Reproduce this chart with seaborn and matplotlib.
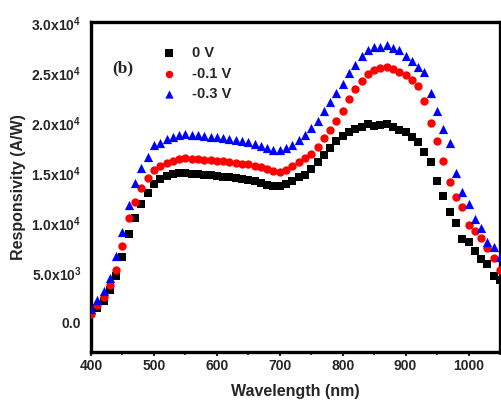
import numpy as np
import pandas as pd
import matplotlib
matplotlib.use("Agg")
import matplotlib.pyplot as plt
import seaborn as sns
from matplotlib.ticker import FixedLocator, FixedFormatter, MultipleLocator

wavelength = list(range(400, 1051, 10))

resp_0V = [1000, 1500, 2200, 3300, 4700, 6600, 8900, 10500, 11900, 13000,
           13900, 14400, 14700, 14900, 15000, 15000, 14900, 14900, 14800, 14800,
           14700, 14600, 14600, 14500, 14400, 14300, 14200, 14000, 13800, 13700,
           13700, 13900, 14200, 14600, 14800, 15400, 16100, 16800, 17500, 18200,
           18700, 19100, 19400, 19600, 19900, 19700, 19800, 19900, 19600, 19300,
           19100, 18600, 18100, 17100, 16100, 14200, 12700, 11100, 10000, 8400,
           8100, 7200, 6400, 5900, 4700, 4300]

resp_m01V = [900, 1800, 2600, 3800, 5300, 7700, 10500, 12100, 13500, 14500,
             15300, 15700, 16000, 16200, 16400, 16500, 16400, 16400, 16300, 16300,
             16200, 16200, 16100, 16000, 15900, 15900, 15700, 15600, 15400, 15200,
             15100, 15300, 15700, 16100, 16500, 16900, 17600, 18500, 19300, 20200,
             21200, 22400, 23400, 24200, 24900, 25300, 25500, 25600, 25400, 25100,
             24800, 24300, 23700, 22200, 20000, 18200, 16200, 14100, 12600, 11600,
             9800, 9200, 8500, 7500, 6500, 5300]

resp_m03V = [1400, 2300, 3200, 4500, 6700, 9100, 11800, 14000, 15500, 16600,
             17800, 18000, 18400, 18600, 18800, 18900, 18800, 18800, 18700, 18600,
             18600, 18500, 18400, 18300, 18200, 18100, 17900, 17700, 17500, 17300,
             17300, 17500, 17800, 18300, 18800, 19500, 20200, 21200, 22100, 23000,
             23900, 25000, 25800, 26700, 27300, 27600, 27600, 27800, 27500, 27300,
             26700, 26200, 25600, 25100, 23000, 21200, 19400, 18000, 15000, 13100,
             11900, 10400, 9500, 8100, 7600, 6600]

series_labels = ["0 V", "-0.1 V", "-0.3 V"]
series_colors = ["#000000", "#ff0000", "#0000ff"]
series_markers = ["s", "o", "^"]

y_ticks = [0, 5000, 10000, 15000, 20000, 25000, 30000]
y_tick_labels = ["0.0", r"5.0x10$^3$", r"1.0x10$^4$", r"1.5x10$^4$",
                 r"2.0x10$^4$", r"2.5x10$^4$", r"3.0x10$^4$"]
x_ticks = [400, 500, 600, 700, 800, 900, 1000]

sns.set_style("ticks")
plt.rcParams["font.family"] = ["Liberation Sans", "DejaVu Sans"]
plt.rcParams["font.weight"] = "bold"
plt.rcParams["mathtext.fontset"] = "custom"
plt.rcParams["mathtext.rm"] = "Liberation Sans:bold"
plt.rcParams["mathtext.it"] = "Liberation Sans:bold"
plt.rcParams["mathtext.bf"] = "Liberation Sans:bold"
plt.rcParams["mathtext.default"] = "regular"

fig = plt.figure(figsize=(5.02, 4.03), dpi=100)
ax = fig.add_axes([91 / 502, 1 - 352 / 403, (500 - 91) / 502, (352 - 22) / 403])

df = pd.DataFrame({
    "wl": wavelength * 3,
    "resp": resp_0V + resp_m01V + resp_m03V,
    "bias": [series_labels[0]] * len(wavelength)
            + [series_labels[1]] * len(wavelength)
            + [series_labels[2]] * len(wavelength),
})

sizes = [34, 36, 44]
for lab, col, mk, sz in zip(series_labels, series_colors, series_markers, sizes):
    sns.scatterplot(data=df[df["bias"] == lab], x="wl", y="resp", color=col,
                    marker=mk, s=sz, linewidth=0, ax=ax, label=lab,
                    clip_on=True, zorder=3)

ax.set_xlim(400, 1050)
ax.set_ylim(-2900, 30100)

ax.xaxis.set_major_locator(FixedLocator(x_ticks))
ax.xaxis.set_minor_locator(MultipleLocator(50))
ax.yaxis.set_major_locator(FixedLocator(y_ticks))
ax.yaxis.set_major_formatter(FixedFormatter(y_tick_labels))

ax.tick_params(axis="x", which="major", direction="out", length=3, width=1.5,
               labelsize=10, pad=2)
ax.tick_params(axis="x", which="minor", direction="out", length=2, width=1.2)
ax.tick_params(axis="y", which="both", length=0, labelsize=10, pad=7)
for lbl in ax.get_xticklabels() + ax.get_yticklabels():
    lbl.set_fontweight("bold")

for sp in ax.spines.values():
    sp.set_visible(True)
    sp.set_linewidth(2.4)
    sp.set_color("black")

ax.set_xlabel("Wavelength (nm)", fontsize=11.5, fontweight="bold", labelpad=8)
ax.set_ylabel("Responsivity (A/W)", fontsize=11.5, fontweight="bold", labelpad=4)

leg = ax.legend(loc="upper left", bbox_to_anchor=(0.155, 0.945), frameon=False,
                fontsize=10.5, handletextpad=1.0, labelspacing=0.45,
                borderaxespad=0, handlelength=1.2, markerscale=0.9)
for t in leg.get_texts():
    t.set_fontweight("bold")

fig.text(123 / 502, 1 - 68 / 403, "(b)", ha="center", va="center",
         fontsize=12.5, fontweight="bold", family="Liberation Serif")

fig.savefig("out.png", dpi=100)
